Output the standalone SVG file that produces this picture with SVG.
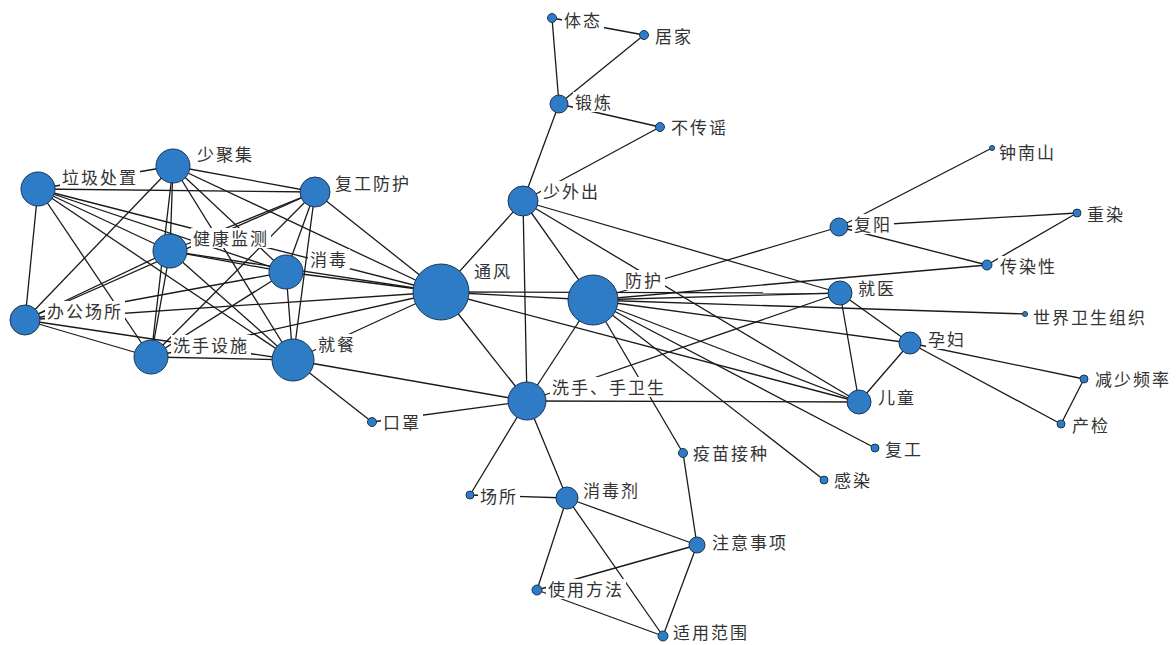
<svg xmlns="http://www.w3.org/2000/svg" width="1176" height="645" viewBox="0 0 1176 645">
<style>
.edges line{stroke:#1a1a1a;stroke-width:1.3}
.node circle{fill:#2e7cc6;stroke:#1b3552;stroke-width:1}
.node rect{fill:#ffffff}
.node text{font-family:"Noto Sans CJK SC","Noto Sans",sans-serif;font-size:17px;letter-spacing:2px;fill:#333333}
</style>
<rect x="0" y="0" width="1176" height="645" fill="#ffffff"/>
<g id="connectors" class="edges">
<line x1="38" y1="189" x2="173" y2="166"/>
<line x1="38" y1="189" x2="315" y2="192"/>
<line x1="38" y1="189" x2="170" y2="251"/>
<line x1="38" y1="189" x2="286" y2="272"/>
<line x1="38" y1="189" x2="441" y2="292"/>
<line x1="38" y1="189" x2="25" y2="320"/>
<line x1="38" y1="189" x2="151" y2="357"/>
<line x1="38" y1="189" x2="293" y2="360"/>
<line x1="173" y1="166" x2="315" y2="192"/>
<line x1="173" y1="166" x2="170" y2="251"/>
<line x1="173" y1="166" x2="286" y2="272"/>
<line x1="173" y1="166" x2="441" y2="292"/>
<line x1="173" y1="166" x2="25" y2="320"/>
<line x1="173" y1="166" x2="151" y2="357"/>
<line x1="173" y1="166" x2="293" y2="360"/>
<line x1="315" y1="192" x2="170" y2="251"/>
<line x1="315" y1="192" x2="286" y2="272"/>
<line x1="315" y1="192" x2="441" y2="292"/>
<line x1="315" y1="192" x2="25" y2="320"/>
<line x1="315" y1="192" x2="151" y2="357"/>
<line x1="315" y1="192" x2="293" y2="360"/>
<line x1="170" y1="251" x2="286" y2="272"/>
<line x1="170" y1="251" x2="441" y2="292"/>
<line x1="170" y1="251" x2="25" y2="320"/>
<line x1="170" y1="251" x2="151" y2="357"/>
<line x1="170" y1="251" x2="293" y2="360"/>
<line x1="286" y1="272" x2="441" y2="292"/>
<line x1="286" y1="272" x2="25" y2="320"/>
<line x1="286" y1="272" x2="151" y2="357"/>
<line x1="286" y1="272" x2="293" y2="360"/>
<line x1="441" y1="292" x2="25" y2="320"/>
<line x1="441" y1="292" x2="151" y2="357"/>
<line x1="441" y1="292" x2="293" y2="360"/>
<line x1="25" y1="320" x2="151" y2="357"/>
<line x1="25" y1="320" x2="293" y2="360"/>
<line x1="151" y1="357" x2="293" y2="360"/>
<line x1="441" y1="292" x2="523" y2="201"/>
<line x1="441" y1="292" x2="593" y2="300"/>
<line x1="441" y1="292" x2="527" y2="401"/>
<line x1="441" y1="292" x2="840" y2="293"/>
<line x1="441" y1="292" x2="859" y2="402"/>
<line x1="523" y1="201" x2="559" y2="104"/>
<line x1="523" y1="201" x2="660" y2="127"/>
<line x1="523" y1="201" x2="593" y2="300"/>
<line x1="523" y1="201" x2="527" y2="401"/>
<line x1="523" y1="201" x2="840" y2="293"/>
<line x1="523" y1="201" x2="859" y2="402"/>
<line x1="559" y1="104" x2="552" y2="18"/>
<line x1="559" y1="104" x2="644" y2="35"/>
<line x1="552" y1="18" x2="644" y2="35"/>
<line x1="559" y1="104" x2="660" y2="127"/>
<line x1="593" y1="300" x2="527" y2="401"/>
<line x1="593" y1="300" x2="840" y2="293"/>
<line x1="593" y1="300" x2="910" y2="343"/>
<line x1="593" y1="300" x2="859" y2="402"/>
<line x1="593" y1="300" x2="1025" y2="314"/>
<line x1="593" y1="300" x2="839" y2="227"/>
<line x1="593" y1="300" x2="987" y2="265"/>
<line x1="593" y1="300" x2="683" y2="453"/>
<line x1="593" y1="300" x2="875" y2="448"/>
<line x1="593" y1="300" x2="824" y2="480"/>
<line x1="839" y1="227" x2="992" y2="148"/>
<line x1="839" y1="227" x2="1077" y2="213"/>
<line x1="839" y1="227" x2="987" y2="265"/>
<line x1="1077" y1="213" x2="987" y2="265"/>
<line x1="840" y1="293" x2="527" y2="401"/>
<line x1="840" y1="293" x2="859" y2="402"/>
<line x1="840" y1="293" x2="910" y2="343"/>
<line x1="910" y1="343" x2="859" y2="402"/>
<line x1="910" y1="343" x2="1084" y2="379"/>
<line x1="910" y1="343" x2="1061" y2="424"/>
<line x1="1084" y1="379" x2="1061" y2="424"/>
<line x1="527" y1="401" x2="859" y2="402"/>
<line x1="527" y1="401" x2="293" y2="360"/>
<line x1="527" y1="401" x2="372" y2="422"/>
<line x1="527" y1="401" x2="470" y2="495"/>
<line x1="527" y1="401" x2="567" y2="498"/>
<line x1="293" y1="360" x2="372" y2="422"/>
<line x1="567" y1="498" x2="470" y2="495"/>
<line x1="567" y1="498" x2="697" y2="545"/>
<line x1="567" y1="498" x2="537" y2="590"/>
<line x1="567" y1="498" x2="663" y2="636"/>
<line x1="697" y1="545" x2="537" y2="590"/>
<line x1="697" y1="545" x2="663" y2="636"/>
<line x1="537" y1="590" x2="663" y2="636"/>
<line x1="683" y1="453" x2="697" y2="545"/>
</g>
<g id="n-lajichuzhi" class="node"><circle cx="38" cy="189" r="17"/><rect x="60" y="167" width="80" height="20"/><text x="62" y="183.5">垃圾处置</text></g>
<g id="n-shaojuji" class="node"><circle cx="173" cy="166" r="17"/><rect x="195" y="144" width="61" height="20"/><text x="197" y="160.5">少聚集</text></g>
<g id="n-fugongfanghu" class="node"><circle cx="315" cy="192" r="15"/><rect x="333" y="173" width="80" height="20"/><text x="335" y="189.5">复工防护</text></g>
<g id="n-jiankangjiance" class="node"><circle cx="170" cy="251" r="17"/><rect x="191" y="228" width="80" height="20"/><text x="193" y="244.5">健康监测</text></g>
<g id="n-xiaodu" class="node"><circle cx="286" cy="272" r="17"/><rect x="308" y="249" width="42" height="20"/><text x="310" y="265.5">消毒</text></g>
<g id="n-tongfeng" class="node"><circle cx="441" cy="292" r="28"/><rect x="472" y="261" width="42" height="20"/><text x="474" y="277.5">通风</text></g>
<g id="n-bangongchangsuo" class="node"><circle cx="25" cy="320" r="15"/><rect x="45" y="301" width="80" height="20"/><text x="47" y="317.5">办公场所</text></g>
<g id="n-xishousheshi" class="node"><circle cx="151" cy="357" r="17"/><rect x="171" y="335" width="80" height="20"/><text x="173" y="351.5">洗手设施</text></g>
<g id="n-jiucan" class="node"><circle cx="293" cy="360" r="21"/><rect x="316" y="334" width="42" height="20"/><text x="318" y="350.5">就餐</text></g>
<g id="n-shaowaichu" class="node"><circle cx="523" cy="201" r="15"/><rect x="541" y="181" width="61" height="20"/><text x="543" y="197.5">少外出</text></g>
<g id="n-fanghu" class="node"><circle cx="593" cy="300" r="25"/><rect x="623" y="270" width="42" height="20"/><text x="625" y="286.5">防护</text></g>
<g id="n-xishou" class="node"><circle cx="527" cy="401" r="19"/><rect x="550" y="377" width="118" height="20"/><text x="552" y="393.5">洗手、手卫生</text></g>
<g id="n-jiuyi" class="node"><circle cx="840" cy="293" r="12"/><rect x="856" y="278" width="42" height="20"/><text x="858" y="294.5">就医</text></g>
<g id="n-yunfu" class="node"><circle cx="910" cy="343" r="11"/><rect x="926" y="329" width="42" height="20"/><text x="928" y="345.5">孕妇</text></g>
<g id="n-ertong" class="node"><circle cx="859" cy="402" r="12"/><rect x="876" y="387" width="42" height="20"/><text x="878" y="403.5">儿童</text></g>
<g id="n-fuyang" class="node"><circle cx="839" cy="227" r="9"/><rect x="852" y="214" width="42" height="20"/><text x="854" y="230.5">复阳</text></g>
<g id="n-duanlian" class="node"><circle cx="559" cy="104" r="9"/><rect x="573" y="92" width="42" height="20"/><text x="575" y="108.5">锻炼</text></g>
<g id="n-xiaoduji" class="node"><circle cx="567" cy="498" r="11"/><rect x="581" y="480" width="61" height="20"/><text x="583" y="496.5">消毒剂</text></g>
<g id="n-zhuyishixiang" class="node"><circle cx="697" cy="545" r="8"/><rect x="710" y="532" width="80" height="20"/><text x="712" y="548.5">注意事项</text></g>
<g id="n-shiyongfangfa" class="node"><circle cx="537" cy="590" r="5"/><rect x="546" y="579" width="80" height="20"/><text x="548" y="595.5">使用方法</text></g>
<g id="n-shiyongfanwei" class="node"><circle cx="663" cy="636" r="5"/><rect x="671" y="622" width="80" height="20"/><text x="673" y="638.5">适用范围</text></g>
<g id="n-titai" class="node"><circle cx="552" cy="18" r="4.5"/><rect x="562" y="10" width="42" height="20"/><text x="564" y="26.5">体态</text></g>
<g id="n-jujia" class="node"><circle cx="644" cy="35" r="4.5"/><rect x="653" y="26" width="42" height="20"/><text x="655" y="42.5">居家</text></g>
<g id="n-buchuanyao" class="node"><circle cx="660" cy="127" r="4.5"/><rect x="669" y="117" width="61" height="20"/><text x="671" y="133.5">不传谣</text></g>
<g id="n-zhongnanshan" class="node"><circle cx="992" cy="148" r="2.5"/><rect x="997" y="142" width="61" height="20"/><text x="999" y="158.5">钟南山</text></g>
<g id="n-chongran" class="node"><circle cx="1077" cy="213" r="4"/><rect x="1085" y="204" width="42" height="20"/><text x="1087" y="220.5">重染</text></g>
<g id="n-chuanranxing" class="node"><circle cx="987" cy="265" r="5"/><rect x="998" y="256" width="61" height="20"/><text x="1000" y="272.5">传染性</text></g>
<g id="n-who" class="node"><circle cx="1025" cy="314" r="2.5"/><rect x="1031" y="307" width="118" height="20"/><text x="1033" y="323.5">世界卫生组织</text></g>
<g id="n-jianshaopinlv" class="node"><circle cx="1084" cy="379" r="4"/><rect x="1093" y="369" width="80" height="20"/><text x="1095" y="385.5">减少频率</text></g>
<g id="n-chanjian" class="node"><circle cx="1061" cy="424" r="4"/><rect x="1070" y="415" width="42" height="20"/><text x="1072" y="431.5">产检</text></g>
<g id="n-kouzhao" class="node"><circle cx="372" cy="422" r="4.5"/><rect x="381" y="412" width="42" height="20"/><text x="383" y="428.5">口罩</text></g>
<g id="n-yimiaojiezhong" class="node"><circle cx="683" cy="453" r="4.5"/><rect x="691" y="443" width="80" height="20"/><text x="693" y="459.5">疫苗接种</text></g>
<g id="n-fugong" class="node"><circle cx="875" cy="448" r="4"/><rect x="883" y="439" width="42" height="20"/><text x="885" y="455.5">复工</text></g>
<g id="n-ganran" class="node"><circle cx="824" cy="480" r="4"/><rect x="832" y="470" width="42" height="20"/><text x="834" y="486.5">感染</text></g>
<g id="n-changsuo" class="node"><circle cx="470" cy="495" r="4"/><rect x="478" y="486" width="42" height="20"/><text x="480" y="502.5">场所</text></g>
</svg>
